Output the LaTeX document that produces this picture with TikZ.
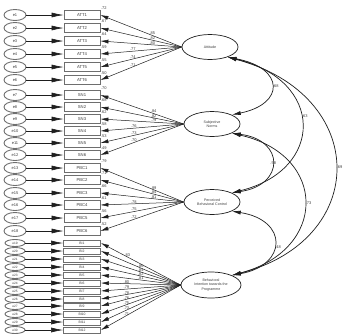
\documentclass[tikz,border=0pt]{standalone}
\usepackage{fontspec}
\setmainfont{Liberation Sans}
\usetikzlibrary{positioning,arrows.meta,shapes.geometric}
\definecolor{negro}{HTML}{1E1E1E}
\definecolor{gris}{HTML}{3C3C3C}
\definecolor{grisclaro}{HTML}{6E6E6E}
\tikzset{
  error/.style={draw=grisclaro, line width=0.9pt, ellipse, minimum width=22pt, minimum height=11pt, inner sep=0pt, text=gris, font=\fontsize{4}{4.4}\selectfont},
  errorchico/.style={error, minimum width=20pt, minimum height=7pt, font=\fontsize{3.2}{3.6}\selectfont},
  item/.style={draw=grisclaro, line width=0.8pt, rectangle, minimum width=36pt, minimum height=9pt, inner sep=0pt, text=gris, font=\fontsize{4.2}{4.6}\selectfont},
  itemchico/.style={item, minimum width=37pt, minimum height=6pt, font=\fontsize{3.4}{3.8}\selectfont},
  factor/.style={draw=negro, line width=0.7pt, ellipse, minimum width=56pt, minimum height=25pt, inner sep=0pt, align=center, text=gris, font=\fontsize{3.6}{4.1}\selectfont},
  errflecha/.style={-{Latex[length=12pt,width=5pt]}, negro, line width=0.6pt},
  carga/.style={-{Latex[length=8pt,width=4pt]}, negro, line width=0.5pt},
  cov/.style={{Latex[length=9pt,width=4pt]}-{Latex[length=9pt,width=4pt]}, negro, line width=0.7pt},
  num/.style={inner sep=0.4pt, text=gris, font=\fontsize{4}{4.2}\selectfont}
}
\begin{document}
\begin{tikzpicture}[x=1pt, y=-1pt]
  \useasboundingbox (0,0) rectangle (352,335);
  \node[factor] (f1) at (210,47) {Attitude};
  \node[factor] (f2) at (212,124) {Subjective\\Norms};
  \node[factor] (f3) at (212,202) {Perceived\\Behavioral Control};
  \node[factor, minimum width=60pt, minimum height=26pt] (f4) at (211,285) {Behavioral\\Intention towards the\\Programme};

  \foreach \i/\y/\txt/\r/\l/\p in {1/15/ATT1/.72/.85/0.36, 2/28/ATT2/.67/.82/0.36, 3/41/ATT3/.64/.80/0.36,
      4/54/ATT4/.59/.77/0.6, 5/67/ATT5/.55/.74/0.6, 6/80/ATT6/.50/.71/0.6} {
    \node[error] (e\i) at (15,\y) {e\i};
    \node[item] (b\i) at (82,\y) {\txt};
    \draw[errflecha] (e\i) -- (b\i);
    \draw[carga] (f1.west) -- (b\i.east) node[num, pos=\p, above] (l\i) {\l};
    \node[num, anchor=south west] (r\i) at (b\i.north east) {\r};
  }

  \foreach \i/\y/\txt/\r/\l/\p in {7/95/SN1/.70/.84/0.36, 8/107/SN2/.68/.82/0.36, 9/119/SN3/.62/.79/0.36,
      10/131/SN4/.58/.76/0.6, 11/143/SN5/.53/.73/0.6, 12/155/SN6/.49/.70/0.6} {
    \node[error] (e\i) at (15,\y) {e\i};
    \node[item] (b\i) at (82,\y) {\txt};
    \draw[errflecha] (e\i) -- (b\i);
    \draw[carga] (f2.west) -- (b\i.east) node[num, pos=\p, above] (l\i) {\l};
    \node[num, anchor=south west] (r\i) at (b\i.north east) {\r};
  }

  \foreach \i/\y/\txt/\r/\l/\p in {13/168/PBC1/.79/.89/0.36, 14/180/PBC2/.71/.84/0.36, 15/193/PBC3/.66/.81/0.36,
      16/205/PBC4/.61/.78/0.6, 17/218/PBC5/.56/.75/0.6, 18/231/PBC6/.52/.72/0.6} {
    \node[error] (e\i) at (15,\y) {e\i};
    \node[item] (b\i) at (82,\y) {\txt};
    \draw[errflecha] (e\i) -- (b\i);
    \draw[carga] (f3.west) -- (b\i.east) node[num, pos=\p, above] (l\i) {\l};
    \node[num, anchor=south west] (r\i) at (b\i.north east) {\r};
  }

  \foreach \i/\y/\txt/\l/\p in {19/243/BI1/.83/0.67, 20/251/BI2/.86/0.5, 21/259/BI3/.84/0.5, 22/267/BI4/.82/0.5,
      23/275/BI5/.81/0.5, 24/283/BI6/.80/0.68, 25/291/BI7/.79/0.68, 26/299/BI8/.78/0.68,
      27/306/BI9/.76/0.68, 28/314/BI10/.75/0.68, 29/322/BI11/.73/0.68, 30/330/BI12/.71/0.68} {
    \node[errorchico] (e\i) at (15,\y) {e\i};
    \node[itemchico] (b\i) at (82,\y) {\txt};
    \draw[errflecha] (e\i) -- (b\i);
    \draw[carga] (f4.west) -- (b\i.east) node[num, pos=\p, above=-0.5pt] (l\i) {\l};
  }

  \draw[cov] (f1.-30) .. controls (285,68) and (285,104) .. (f2.25) node[num, pos=0.5, right=1pt] (c12) {.68};
  \draw[cov] (f1.-30) .. controls (325,80) and (325,170) .. (f3.25) node[num, pos=0.45, right=1pt] (c13) {.63};
  \draw[cov] (f1.-30) .. controls (370,95) and (370,240) .. (f4.25) node[num, pos=0.5, right=1pt] (c14) {.69};
  \draw[cov] (f2.-25) .. controls (285,140) and (285,185) .. (f3.25) node[num, pos=0.5, right=-2pt] (c23) {.58};
  \draw[cov] (f2.-25) .. controls (328,155) and (328,250) .. (f4.25) node[num, pos=0.5, right=1pt] (c24) {.73};
  \draw[cov] (f3.-25) .. controls (288,220) and (288,265) .. (f4.25) node[num, pos=0.55, right=1pt] (c34) {.48};
\end{tikzpicture}
\end{document}
